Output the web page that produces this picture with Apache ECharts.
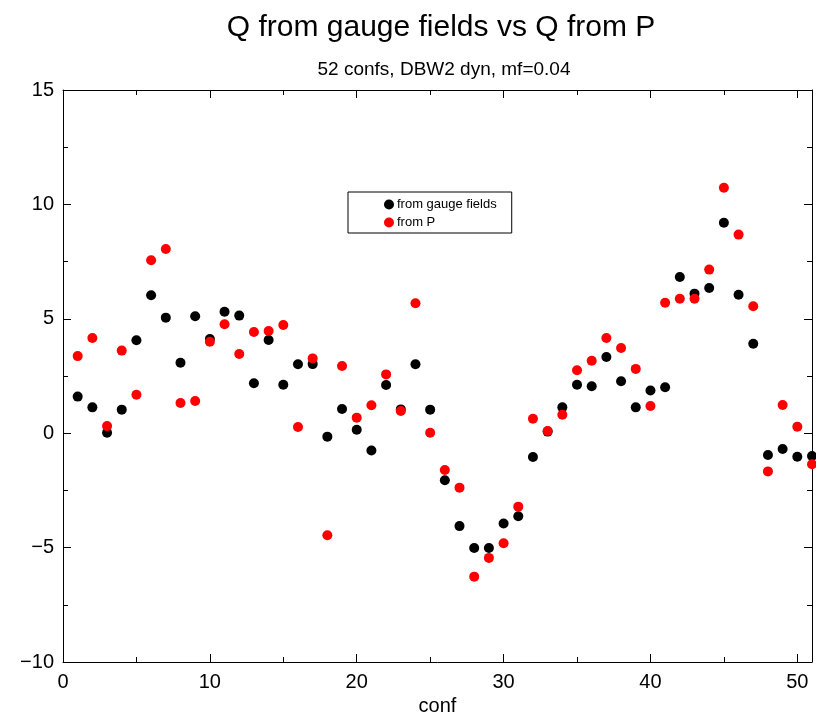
<!DOCTYPE html>
<html>
<head>
<meta charset="utf-8">
<script src="https://cdn.jsdelivr.net/npm/echarts@6/dist/echarts.min.js"></script>
<style>
html,body{margin:0;padding:0;background:#fff;}
#chart{width:816px;height:723px;}
</style>
</head>
<body>
<div id="chart"></div>
<script>
// conf index
var confs = [1,2,3,4,5,6,7,8,9,10,11,12,13,14,15,16,17,18,19,20,21,22,23,24,25,26,27,28,29,30,31,32,33,34,35,36,37,38,39,40,41,42,43,44,45,46,47,48,49,50,51];
// Q from gauge fields
var qGauge = [1.60,1.13,0.02,1.03,4.06,6.03,5.05,3.08,5.11,4.12,5.31,5.14,2.18,4.07,2.12,3.01,3.02,-0.15,1.06,0.15,-0.76,2.11,1.04,3.01,1.03,-2.06,-4.06,-5.02,-5.02,-3.95,-3.63,-1.04,0.07,1.13,2.12,2.05,3.33,2.27,1.13,1.87,2.01,6.83,6.10,6.35,9.20,6.05,3.91,-0.95,-0.69,-1.03,-1.00];
// Q from P
var qP = [3.37,4.16,0.31,3.61,1.68,7.56,8.05,1.32,1.41,4.00,4.76,3.46,4.42,4.47,4.73,0.27,3.27,-4.46,2.94,0.68,1.22,2.57,0.97,5.68,0.02,-1.61,-2.38,-6.27,-5.45,-4.81,-3.21,0.63,0.10,0.81,2.75,3.17,4.16,3.72,2.81,1.19,5.70,5.88,5.88,7.15,10.73,8.68,5.55,-1.67,1.23,0.28,-1.36];
var xTicks = [0,10,20,30,40,50];
var yTicks = [-10,-5,0,5,10,15];

var FONT = 'Liberation Sans';
function pairs(ys){ return confs.map(function(c,i){ return [c, ys[i]]; }); }
function fmtY(v){ return yTicks.indexOf(v) >= 0 ? String(v).replace('-', '\u2212') : ''; }

var chart = echarts.init(document.getElementById('chart'));
var axisCommon = {
  type: 'value',
  axisLine: {show: true, onZero: false, lineStyle: {color: '#000', width: 1}},
  axisTick: {show: true, inside: true, length: 8, lineStyle: {color: '#000'}},
  minorTick: {show: true, splitNumber: 2, length: 5, lineStyle: {color: '#000'}},
  splitLine: {show: false}
};
chart.setOption({
  animation: false,
  backgroundColor: '#fff',
  title: [
    {text: 'Q from gauge fields vs Q from P', left: 436, top: 8, textAlign: 'center',
     textStyle: {fontFamily: FONT, fontSize: 30, fontWeight: 'normal', color: '#000'}},
    {text: '52 confs, DBW2 dyn, mf=0.04', left: 439, top: 55, textAlign: 'center',
     textStyle: {fontFamily: FONT, fontSize: 19, fontWeight: 'normal', color: '#000'}}
  ],
  legend: {
    orient: 'vertical', left: 348, top: 192,
    padding: [6, 15, 4, 36], itemGap: 5, itemWidth: 10, itemHeight: 10,
    borderColor: '#000', borderWidth: 1,
    textStyle: {fontFamily: FONT, fontSize: 13, color: '#000', padding: [0,0,0,-2]},
    data: [{name: 'from gauge fields', icon: 'circle'}, {name: 'from P', icon: 'circle'}]
  },
  grid: {left: 63, right: 4, top: 90, bottom: 61},
  xAxis: [
    Object.assign({}, axisCommon, {position: 'bottom', min: 0, max: 51, interval: 10,
      name: 'conf', nameLocation: 'middle', nameGap: 33,
      nameTextStyle: {fontFamily: FONT, fontSize: 20, color: '#000'},
      axisLabel: {fontFamily: FONT, fontSize: 20, color: '#000', margin: 10,
        formatter: function(v){ return xTicks.indexOf(v) >= 0 ? String(v) : ''; }}}),
    Object.assign({}, axisCommon, {position: 'top', min: 0, max: 51, interval: 10,
      axisLabel: {show: false}})
  ],
  yAxis: [
    Object.assign({}, axisCommon, {position: 'left', min: -10, max: 15, interval: 5,
      axisLabel: {fontFamily: FONT, fontSize: 20, color: '#000', margin: 9, formatter: fmtY}}),
    Object.assign({}, axisCommon, {position: 'right', min: -10, max: 15, interval: 5,
      axisLabel: {show: false}})
  ],
  series: [
    {name: 'from gauge fields', type: 'scatter', symbol: 'circle', symbolSize: 10,
     itemStyle: {color: '#000', opacity: 1}, data: pairs(qGauge)},
    {name: 'from P', type: 'scatter', symbol: 'circle', symbolSize: 10,
     itemStyle: {color: '#ff0000', opacity: 1}, data: pairs(qP)}
  ]
});
</script>
</body>
</html>
